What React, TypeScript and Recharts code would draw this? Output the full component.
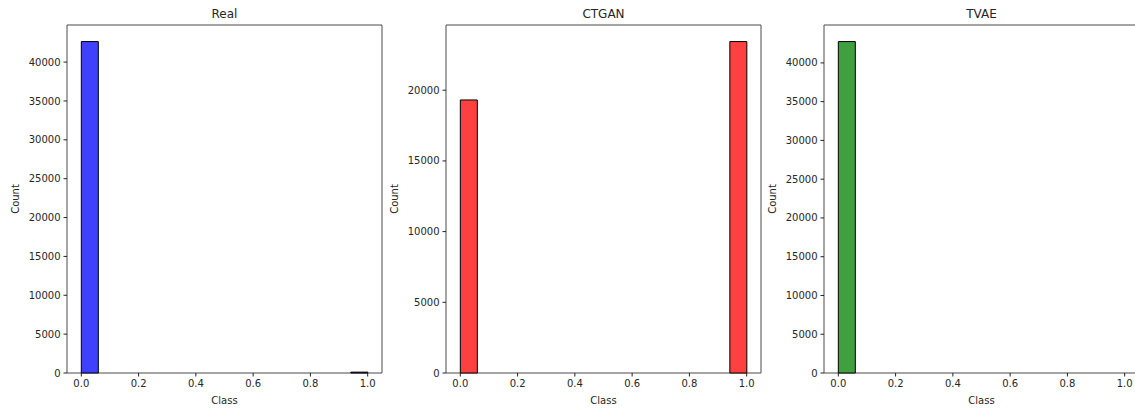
import React from "react";
import {
  ComposedChart,
  Bar,
  XAxis,
  YAxis,
  ReferenceArea,
  Label,
} from "recharts";

// 17 equal-width bins over the Class range [0, 1]
const BIN_COUNT = 17;
const BIN_CENTERS = Array.from({ length: BIN_COUNT }, (_, i) => (i + 0.5) / BIN_COUNT);

const REAL_COUNTS = [42640, 0, 0, 0, 0, 0, 0, 0, 0, 0, 0, 0, 0, 0, 0, 0, 110];
const CTGAN_COUNTS = [19310, 0, 0, 0, 0, 0, 0, 0, 0, 0, 0, 0, 0, 0, 0, 0, 23440];
const TVAE_COUNTS = [42750, 0, 0, 0, 0, 0, 0, 0, 0, 0, 0, 0, 0, 0, 0, 0, 0];

const X_DOMAIN = [-0.05, 1.05];
const X_TICKS = [0, 0.2, 0.4, 0.6, 0.8, 1.0];
const Y_TICKS_BIG = [0, 5000, 10000, 15000, 20000, 25000, 30000, 35000, 40000];
const Y_TICKS_SMALL = [0, 5000, 10000, 15000, 20000];

const PANELS = [
  { title: "Real", counts: REAL_COUNTS, yTicks: Y_TICKS_BIG, color: "#4040ff", plotLeft: 67 },
  { title: "CTGAN", counts: CTGAN_COUNTS, yTicks: Y_TICKS_SMALL, color: "#ff4040", plotLeft: 446 },
  { title: "TVAE", counts: TVAE_COUNTS, yTicks: Y_TICKS_BIG, color: "#40a040", plotLeft: 824 },
];

const FONT = "'DejaVu Sans', sans-serif";
const TEXT = "#262626";
const SPINE = "#4a4a4a";
const Y_AXIS_W = 60;
const PLOT_W = 315;

function Histogram({ title, counts, yTicks, color }: { title: string; counts: number[]; yTicks: number[]; color: string }) {
  const data = BIN_CENTERS.map((x, i) => ({ x, count: counts[i] }));
  return (
    <ComposedChart
      width={Y_AXIS_W + PLOT_W + 10}
      height={410}
      data={data}
      margin={{ top: 25, right: 10, bottom: 0, left: 0 }}
      barCategoryGap={0}
      barGap={0}
      style={{ fontFamily: FONT }}
    >
      <XAxis
        dataKey="x"
        type="number"
        domain={X_DOMAIN}
        allowDataOverflow
        ticks={X_TICKS}
        tickFormatter={(v: number) => v.toFixed(1)}
        height={37}
        axisLine={false}
        tickLine={{ stroke: "#222" }}
        tickSize={3.5}
        tickMargin={3}
        tick={{ fontSize: 10, fill: TEXT }}
        interval={0}
      >
        <Label value="Class" position="insideBottom" offset={6} fontSize={10} fill={TEXT} />
      </XAxis>
      <YAxis
        type="number"
        domain={[0, (dataMax: number) => dataMax * 1.05]}
        ticks={yTicks}
        width={Y_AXIS_W}
        axisLine={false}
        tickLine={{ stroke: "#222" }}
        tickSize={3.5}
        tickMargin={3}
        tick={{ fontSize: 10, fill: TEXT }}
        interval={0}
      >
        <Label
          content={(p: any) => {
            const vb = p.viewBox;
            const cx = vb.x + vb.width - 52;
            const cy = vb.y + vb.height / 2;
            return (
              <text
                x={cx}
                y={cy}
                transform={`rotate(-90, ${cx}, ${cy})`}
                textAnchor="middle"
                dominantBaseline="central"
                fontSize={10}
                fill={TEXT}
                fontFamily={FONT}
              >
                Count
              </text>
            );
          }}
        />
      </YAxis>
      <Bar dataKey="count" fill={color} stroke="#000" strokeWidth={1} isAnimationActive={false} />
      <ReferenceArea
        x1={X_DOMAIN[0]}
        x2={X_DOMAIN[1]}
        fill="none"
        fillOpacity={0}
        stroke={SPINE}
        strokeWidth={1}
        ifOverflow="visible"
      >
        <Label value={title} position="top" offset={7} fontSize={12} fill={TEXT} />
      </ReferenceArea>
    </ComposedChart>
  );
}

export default function App() {
  return (
    <div
      style={{
        position: "fixed",
        left: 0,
        top: 0,
        width: 1135,
        height: 410,
        overflow: "hidden",
        background: "#fff",
      }}
    >
      {PANELS.map((p) => (
        <div key={p.title} style={{ position: "absolute", left: p.plotLeft - Y_AXIS_W, top: 0 }}>
          <Histogram title={p.title} counts={p.counts} yTicks={p.yTicks} color={p.color} />
        </div>
      ))}
    </div>
  );
}
